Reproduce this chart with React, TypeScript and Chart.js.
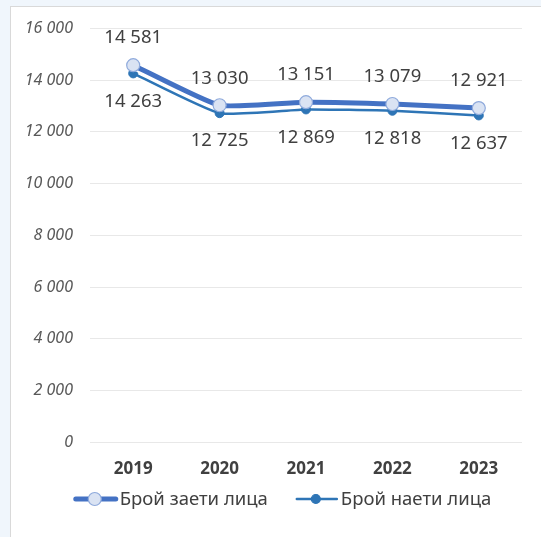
import React, { useEffect, useRef } from "react";
import { Chart, registerables } from "chart.js";

Chart.register(...registerables);

const years = ["2019", "2020", "2021", "2022", "2023"];
const employed = [14581, 13030, 13151, 13079, 12921];
const hired = [14263, 12725, 12869, 12818, 12637];
const seriesNames = ["Брой заети лица", "Брой наети лица"];
const yTicks = [0, 2000, 4000, 6000, 8000, 10000, 12000, 14000, 16000];

const FONT = "'Noto Sans', 'Open Sans', sans-serif";
const fmt = (v: number) => String(Math.round(v)).replace(/\B(?=(\d{3})+(?!\d))/g, " ");

type Sty = { color: string; lw: number; r: number; fill: string; border: string };
const styles: Sty[] = [
  { color: "#4472c4", lw: 5, r: 6.5, fill: "#dae3f3", border: "#8faadc" },
  { color: "#2e75b6", lw: 2.5, r: 4.5, fill: "#2e75b6", border: "#2e75b6" },
];

function drawIcon(ctx: CanvasRenderingContext2D, x: number, y: number, s: Sty) {
  ctx.save();
  ctx.strokeStyle = s.color;
  ctx.lineWidth = s.lw;
  ctx.lineCap = "round";
  ctx.beginPath();
  ctx.moveTo(x + 2, y);
  ctx.lineTo(x + 42, y);
  ctx.stroke();
  ctx.beginPath();
  ctx.arc(x + 21, y, s.r, 0, Math.PI * 2);
  ctx.fillStyle = s.fill;
  ctx.fill();
  ctx.lineWidth = 1.2;
  ctx.strokeStyle = s.border;
  ctx.stroke();
  ctx.restore();
}

const outlinePlugin = {
  id: "whiteOutline",
  beforeDatasetDraw(chart: any, args: any) {
    const meta = args.meta;
    const ds = chart.data.datasets[args.index];
    const ctx = chart.ctx;
    const pts = meta.data;
    if (!pts.length) return;
    ctx.save();
    ctx.strokeStyle = "#ffffff";
    ctx.lineWidth = (ds.borderWidth || 2) + 4;
    ctx.lineJoin = "round";
    ctx.lineCap = "round";
    ctx.beginPath();
    ctx.moveTo(pts[0].x, pts[0].y);
    for (let i = 1; i < pts.length; i++) {
      const p = pts[i - 1];
      const q = pts[i];
      ctx.bezierCurveTo(p.cp2x, p.cp2y, q.cp1x, q.cp1y, q.x, q.y);
    }
    ctx.stroke();
    ctx.restore();
  },
};

const labelsPlugin = {
  id: "valueLabels",
  afterDatasetsDraw(chart: any) {
    const ctx = chart.ctx;
    ctx.save();
    ctx.font = `18.5px ${FONT}`;
    ctx.fillStyle = "#404040";
    ctx.textAlign = "center";
    ctx.textBaseline = "middle";
    chart.data.datasets.forEach((ds: any, di: number) => {
      const meta = chart.getDatasetMeta(di);
      meta.data.forEach((pt: any, i: number) => {
        const dy = di === 0 ? -27 : 28;
        ctx.fillText(fmt(ds.data[i]), pt.x, pt.y + dy);
      });
    });
    ctx.restore();
  },
};

const legendPlugin = {
  id: "customLegend",
  afterDraw(chart: any) {
    const ctx = chart.ctx;
    ctx.save();
    ctx.font = `18.5px ${FONT}`;
    ctx.fillStyle = "#404040";
    ctx.textBaseline = "middle";
    ctx.textAlign = "left";
    const iconW = 44;
    const gapText = 2;
    const gapItem = 27;
    const widths = seriesNames.map((n) => ctx.measureText(n).width);
    const total = widths.reduce((a, w) => a + iconW + gapText + w, 0) + gapItem;
    const cx = 271.5;
    const y = 492;
    let x = cx - total / 2;
    seriesNames.forEach((n, i) => {
      drawIcon(ctx, x, y, styles[i]);
      x += iconW + gapText;
      ctx.fillText(n, x, y + 1);
      x += widths[i] + gapItem;
    });
    ctx.restore();
  },
};

export default function App() {
  const ref = useRef<HTMLCanvasElement>(null);
  useEffect(() => {
    document.body.style.margin = "0";
    const chart = new Chart(ref.current!, {
      type: "line",
      data: {
        labels: years,
        datasets: [
          {
            label: seriesNames[0],
            data: employed,
            borderColor: styles[0].color,
            borderWidth: styles[0].lw,
            pointRadius: styles[0].r,
            pointBackgroundColor: styles[0].fill,
            pointBorderColor: styles[0].border,
            pointBorderWidth: 1.2,
            tension: 0.15,
          },
          {
            label: seriesNames[1],
            data: hired,
            borderColor: styles[1].color,
            borderWidth: styles[1].lw,
            pointRadius: styles[1].r,
            pointBackgroundColor: styles[1].fill,
            pointBorderColor: styles[1].border,
            pointBorderWidth: 1,
            tension: 0.15,
          },
        ],
      },
      options: {
        animation: false,
        responsive: false,
        devicePixelRatio: 1,
        layout: { padding: { top: 21.5, right: 19, bottom: 40.5, left: 0 } },
        plugins: {
          tooltip: { enabled: false },
          legend: { display: false },
        },
        scales: {
          x: {
            offset: true,
            afterFit: (s: any) => {
              s.paddingLeft = 0;
              s.paddingRight = 0;
            },
            grid: { display: false, drawTicks: false },
            border: { display: false },
            ticks: {
              color: "#404040",
              font: { family: FONT, size: 17, weight: "bold" },
              padding: 17,
            },
          },
          y: {
            min: 0,
            max: 16000,
            afterFit: (s: any) => {
              s.width = 79;
              s.paddingTop = 0;
              s.paddingBottom = 0;
            },
            afterBuildTicks: (s: any) => {
              s.ticks = yTicks.map((v) => ({ value: v }));
            },
            grid: { color: "#e8e8e8", drawTicks: false, lineWidth: 1 },
            border: { display: false },
            ticks: {
              color: "#595959",
              font: { family: FONT, size: 16, style: "italic" },
              padding: 17,
              callback: (v: any) => fmt(Number(v)),
            },
          },
        },
      },
      plugins: [outlinePlugin, labelsPlugin, legendPlugin],
    } as any);
    return () => chart.destroy();
  }, []);
  return (
    <div style={{ width: 541, height: 537, background: "#f0f6fc", position: "relative", overflow: "hidden" }}>
      <div
        style={{
          position: "absolute",
          left: 10,
          top: 6,
          width: 540,
          height: 540,
          background: "#ffffff",
          borderLeft: "1px solid #d9d9d9",
          borderTop: "1px solid #d9d9d9",
        }}
      >
        <canvas ref={ref} width={530} height={530} style={{ display: "block" }} />
      </div>
    </div>
  );
}
